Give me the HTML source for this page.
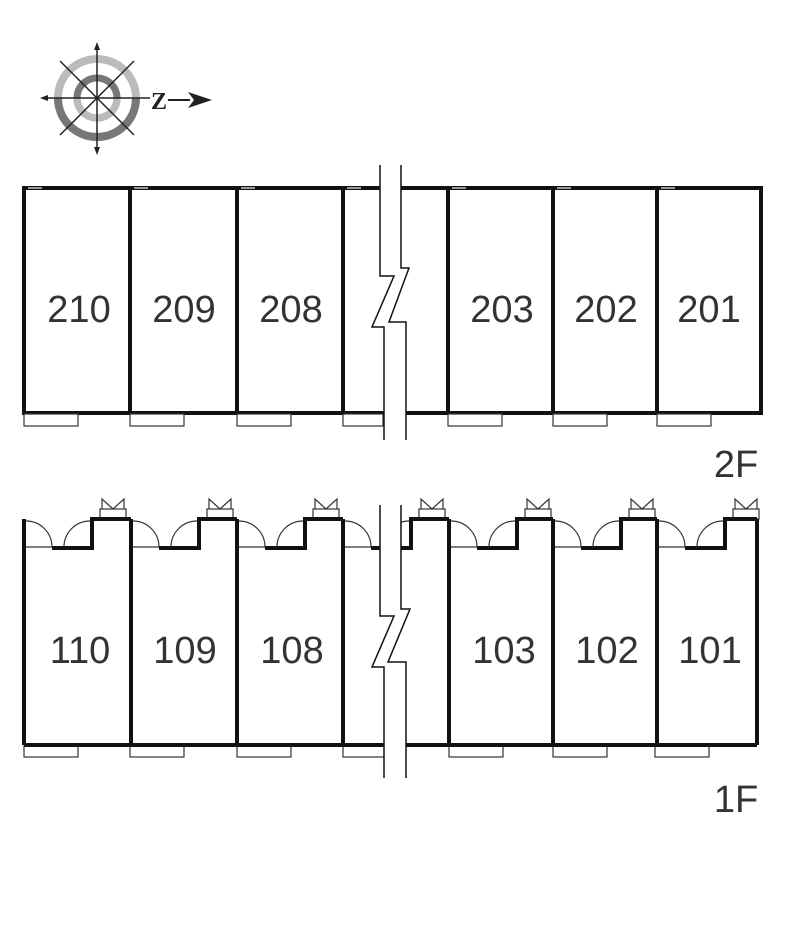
<!DOCTYPE html>
<html><head><meta charset="utf-8"><style>body{margin:0;background:#fff}svg{display:block}</style></head>
<body>
<svg width="800" height="940" viewBox="0 0 800 940" xmlns="http://www.w3.org/2000/svg" font-family="Liberation Sans, sans-serif">
<rect width="800" height="940" fill="#fff"/>
<!-- compass -->
<circle cx="97" cy="98" r="39" fill="none" stroke="#bbb" stroke-width="8"/>
<path d="M58,98 A39,39 0 0 0 136,98" fill="none" stroke="#777" stroke-width="8"/>
<circle cx="97" cy="98" r="20" fill="none" stroke="#777" stroke-width="7"/>
<path d="M77,98 A20,20 0 0 0 117,98" fill="none" stroke="#bbb" stroke-width="7"/>
<g stroke="#222" stroke-width="1.5">
<line x1="97" y1="44" x2="97" y2="152"/><line x1="42" y1="98" x2="150" y2="98"/>
<line x1="60" y1="61" x2="134" y2="135"/><line x1="134" y1="61" x2="60" y2="135"/>
</g>
<polygon points="97,42 94,50 100,50" fill="#222"/><polygon points="97,155 94,147 100,147" fill="#222"/>
<polygon points="40,98 48,95 48,101" fill="#222"/>
<text x="151" y="109" font-size="24" font-weight="bold" font-family="Liberation Serif, serif" fill="#222">Z</text>
<line x1="168" y1="100" x2="190" y2="100" stroke="#222" stroke-width="2"/>
<polygon points="212,100 188,92 194,100 188,108" fill="#222"/>

<!-- 2F -->
<g fill="none" stroke="#111" stroke-width="4">
<rect x="24" y="188" width="737" height="225"/>
<line x1="130" y1="188" x2="130" y2="413"/><line x1="237" y1="188" x2="237" y2="413"/>
<line x1="343" y1="188" x2="343" y2="413"/><line x1="448" y1="188" x2="448" y2="413"/>
<line x1="553" y1="188" x2="553" y2="413"/><line x1="657" y1="188" x2="657" y2="413"/>
</g>
<g fill="#fff" stroke="#333" stroke-width="1.2">
<rect x="24" y="414" width="54" height="12"/><rect x="130" y="414" width="54" height="12"/>
<rect x="237" y="414" width="54" height="12"/><rect x="343" y="414" width="40" height="12"/>
<rect x="448" y="414" width="54" height="12"/><rect x="553" y="414" width="54" height="12"/>
<rect x="657" y="414" width="54" height="12"/>
</g>
<g fill="#999"><rect x="28" y="187" width="14" height="2"/><rect x="134" y="187" width="14" height="2"/><rect x="241" y="187" width="14" height="2"/><rect x="347" y="187" width="14" height="2"/><rect x="452" y="187" width="14" height="2"/><rect x="557" y="187" width="14" height="2"/><rect x="661" y="187" width="14" height="2"/></g>
<polygon points="380,165 401,165 401,268 409,268 389,322 406,322 406,440 384,440 384,327 372,327 394,276 380,276" fill="#fff"/>
<g fill="none" stroke="#111" stroke-width="1.5">
<polyline points="380,165 380,276 394,276 372,327 384,327 384,440"/>
<polyline points="401,165 401,268 409,268 389,322 406,322 406,440"/>
</g>
<g font-size="38" fill="#333" text-anchor="middle">
<text x="79" y="322">210</text><text x="184" y="322">209</text><text x="291" y="322">208</text>
<text x="502" y="322">203</text><text x="606" y="322">202</text><text x="709" y="322">201</text>
<text x="736" y="477">2F</text><text x="736" y="812">1F</text>
</g>

<!-- 1F -->
<defs>
<g id="d">
<g fill="none" stroke="#333" stroke-width="1.2">
<path d="M26,521 A26,26 0 0 1 52,547"/><line x1="26" y1="547" x2="52" y2="547"/>
<path d="M90,521 A26,26 0 0 0 64,547"/><line x1="64" y1="547" x2="90" y2="547"/>
<rect x="100" y="509" width="26" height="10"/>
<path d="M102,509 L102,499 L113,509 L124,499 L124,509"/>
</g>
</g>
<g id="p"><polyline points="52,548 92,548 92,519" fill="none"/></g>
<g id="w" fill="#fff" stroke="#333" stroke-width="1.2"><rect x="24" y="746" width="54" height="11"/></g>
</defs>
<use href="#d"/><use href="#d" x="107"/><use href="#d" x="213"/><use href="#d" x="319"/><use href="#d" x="425"/><use href="#d" x="529"/><use href="#d" x="633"/>
<use href="#w"/><use href="#w" x="106"/><use href="#w" x="213"/><use href="#w" x="319"/><use href="#w" x="425"/><use href="#w" x="529"/><use href="#w" x="631"/>
<g fill="none" stroke="#111" stroke-width="4">
<line x1="24" y1="745" x2="757" y2="745"/>
<line x1="24" y1="519" x2="24" y2="745"/><line x1="131" y1="519" x2="131" y2="745"/>
<line x1="237" y1="519" x2="237" y2="745"/><line x1="343" y1="519" x2="343" y2="745"/>
<line x1="449" y1="519" x2="449" y2="745"/><line x1="553" y1="519" x2="553" y2="745"/>
<line x1="657" y1="519" x2="657" y2="745"/><line x1="757" y1="519" x2="757" y2="745"/>
<polyline points="52,548 92,548 92,519 131,519"/>
<polyline points="159,548 199,548 199,519 237,519"/>
<polyline points="265,548 305,548 305,519 343,519"/>
<polyline points="371,548 411,548 411,519 449,519"/>
<polyline points="477,548 517,548 517,519 553,519"/>
<polyline points="581,548 621,548 621,519 657,519"/>
<polyline points="685,548 725,548 725,519 757,519"/>
</g>
<polygon points="380,505 401,505 401,609 410,609 388,662 406,662 406,778 384,778 384,667 372,667 394,616 380,616" fill="#fff"/>
<g fill="none" stroke="#111" stroke-width="1.5">
<polyline points="380,505 380,616 394,616 372,667 384,667 384,778"/>
<polyline points="401,505 401,609 410,609 388,662 406,662 406,778"/>
</g>
<g font-size="38" fill="#333" text-anchor="middle">
<text x="80" y="663">110</text><text x="185" y="663">109</text><text x="292" y="663">108</text>
<text x="504" y="663">103</text><text x="607" y="663">102</text><text x="710" y="663">101</text>
</g>
</svg>
</body></html>
